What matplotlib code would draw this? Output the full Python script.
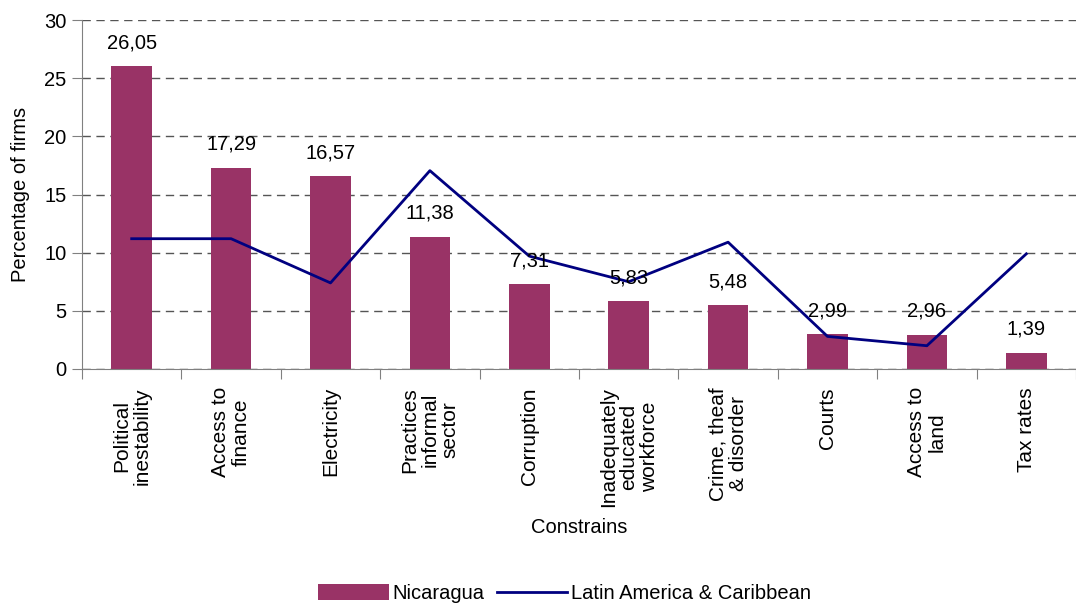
import matplotlib.pyplot as plt
import numpy as np

plt.rcParams['font.family'] = ['Liberation Sans', 'DejaVu Sans']

# data
categories = ['Political\ninestability', 'Access to\nfinance', 'Electricity',
              'Practices\ninformal\nsector', 'Corruption',
              'Inadequately\neducated\nworkforce', 'Crime, theaf\n& disorder',
              'Courts', 'Access to\nland', 'Tax rates']
nicaragua = [26.05, 17.29, 16.57, 11.38, 7.31, 5.83, 5.48, 2.99, 2.96, 1.39]
latam = [11.2, 11.2, 7.4, 17.05, 9.7, 7.5, 10.9, 2.8, 2.0, 9.9]
value_labels = ['26,05', '17,29', '16,57', '11,38', '7,31', '5,83', '5,48', '2,99', '2,96', '1,39']

fig = plt.figure(figsize=(10.76, 6.08), dpi=100)
ax = fig.add_axes([82/1076, 1-369/608, 994/1076, 349/608])

x = np.arange(len(categories))
bars = ax.bar(x, nicaragua, width=0.41, color='#993366', label='Nicaragua', zorder=2)
line, = ax.plot(x, latam, color='#000080', lw=2, label='Latin America & Caribbean', zorder=3)

for xi, v, lab in zip(x, nicaragua, value_labels):
    ax.annotate(lab, (xi, v), xytext=(0, 10), textcoords='offset points',
                ha='center', va='bottom', fontsize=14.5)

##setting
ax.set_xlim(-0.5, len(categories) - 0.5)
ax.set_ylim(0, 30)
ax.set_yticks(np.arange(0, 31, 5))
ax.tick_params(axis='y', labelsize=14.5, length=7, color='#808080', pad=4)
ax.yaxis.grid(True, linestyle=(0, (6, 4)), color='#555555', lw=1, zorder=0)

ax.set_xticks(np.arange(-0.5, len(categories)), labels=[''] * (len(categories) + 1))
ax.tick_params(axis='x', which='major', length=7, color='#808080')
ax.set_xticks(x, labels=categories, minor=True, rotation=90, fontsize=15,
              multialignment='center', linespacing=1.1)
ax.tick_params(axis='x', which='minor', length=0, pad=13)

for s in ['top', 'right']:
    ax.spines[s].set_visible(False)
for s in ['left', 'bottom']:
    ax.spines[s].set_color('#808080')

ax.set_ylabel('Percentage of firms', fontsize=14.5, labelpad=10)
ax.set_xlabel('Constrains', fontsize=14.5, labelpad=8)

fig.legend([bars, line], ['Nicaragua', 'Latin America & Caribbean'],
           loc='lower center', bbox_to_anchor=(0.525, -0.005), ncol=2, frameon=False,
           fontsize=14.5, handlelength=3.5, handleheight=0.8, handletextpad=0.2,
           columnspacing=0.6, borderaxespad=0.0)

fig.savefig('out.png', dpi=100)
